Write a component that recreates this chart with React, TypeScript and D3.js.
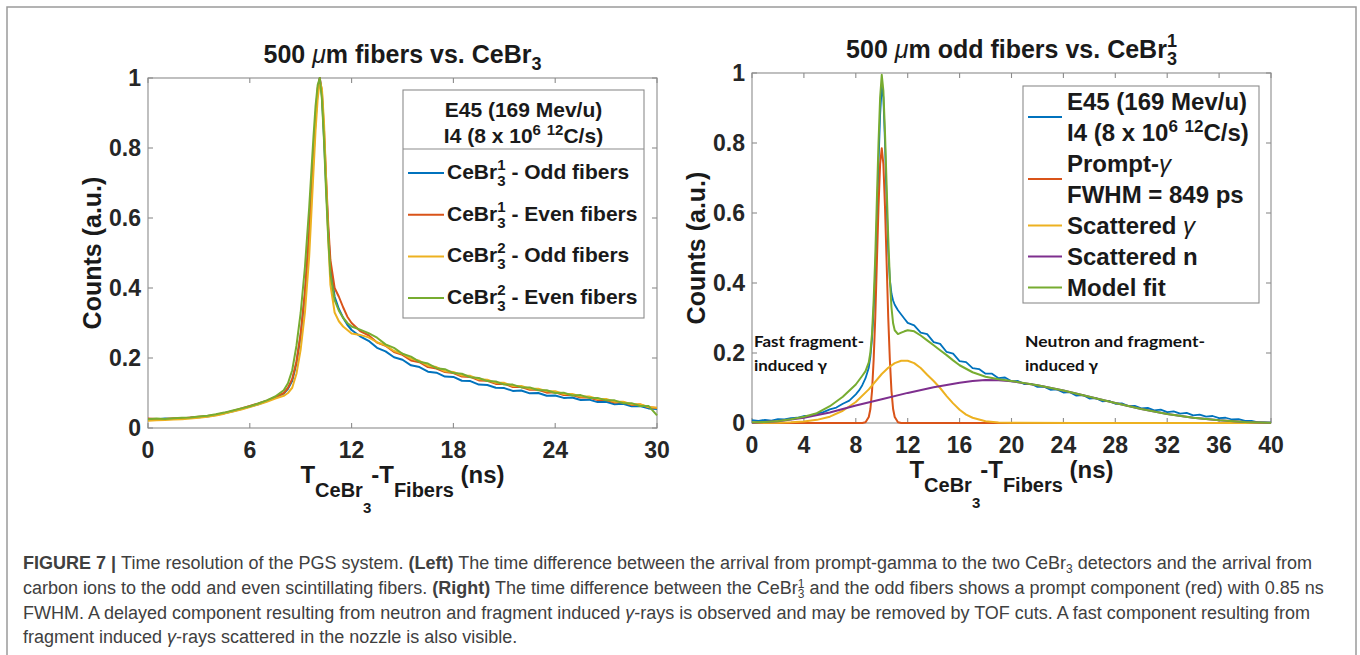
import React from 'react';
import * as d3 from 'd3';

const FONT = '"Liberation Sans", Arial, Helvetica, sans-serif';
const C_BLUE = '#0072BD';
const C_RED = '#D95319';
const C_YEL = '#EDB120';
const C_PUR = '#7E2F8E';
const C_GRN = '#77AC30';

// ---------------- Left panel data ----------------
const leftTime = [0, 0.5, 1, 1.5, 2, 2.5, 3, 3.5, 4, 4.5, 5, 5.5, 6, 6.5, 7, 7.5, 8,
  8.25, 8.5, 8.75, 9, 9.25, 9.5,
  9.625, 9.75, 9.875, 10, 10.125, 10.25, 10.375, 10.5, 10.625, 10.75,
  11, 11.25, 11.5, 11.75, 12,
  12.5, 13, 13.5, 14, 14.5, 15, 15.5, 16, 16.5, 17, 17.5, 18, 18.5, 19, 19.5, 20, 20.5, 21, 21.5, 22,
  22.5, 23, 23.5, 24, 24.5, 25, 25.5, 26, 26.5, 27, 27.5, 28, 28.5, 29, 29.5, 30];

const leftOddCe1 = [0.026, 0.024, 0.027, 0.026, 0.028, 0.029, 0.031, 0.033, 0.037, 0.042, 0.048, 0.054, 0.061, 0.068, 0.077, 0.087, 0.098,
  0.112, 0.135, 0.185, 0.265, 0.38, 0.55,
  0.66, 0.77, 0.88, 0.96, 1.0, 0.95, 0.83, 0.69, 0.56, 0.46,
  0.375, 0.34, 0.315, 0.295, 0.28,
  0.262, 0.249, 0.229, 0.219, 0.202, 0.195, 0.179, 0.174, 0.161, 0.158, 0.147, 0.146, 0.135, 0.134, 0.124, 0.123, 0.115, 0.114, 0.106, 0.107,
  0.099, 0.100, 0.092, 0.093, 0.086, 0.087, 0.080, 0.081, 0.074, 0.075, 0.068, 0.069, 0.062, 0.063, 0.056, 0.054];

const leftEvenCe1 = [0.027, 0.026, 0.026, 0.028, 0.027, 0.030, 0.032, 0.034, 0.038, 0.043, 0.049, 0.056, 0.063, 0.070, 0.078, 0.088, 0.100,
  0.115, 0.14, 0.19, 0.27, 0.39, 0.56,
  0.67, 0.78, 0.89, 0.97, 1.0, 0.96, 0.85, 0.71, 0.58, 0.48,
  0.40, 0.375, 0.345, 0.318, 0.30,
  0.277, 0.265, 0.244, 0.235, 0.217, 0.209, 0.193, 0.188, 0.174, 0.170, 0.160, 0.157, 0.147, 0.146, 0.136, 0.135, 0.126, 0.126, 0.117, 0.117,
  0.109, 0.109, 0.101, 0.102, 0.094, 0.094, 0.087, 0.087, 0.080, 0.080, 0.073, 0.074, 0.066, 0.067, 0.059, 0.057];

const leftOddCe2 = [0.021, 0.022, 0.023, 0.024, 0.025, 0.027, 0.029, 0.032, 0.036, 0.041, 0.047, 0.053, 0.060, 0.067, 0.075, 0.084, 0.092,
  0.100, 0.115, 0.155, 0.225, 0.33, 0.49,
  0.61, 0.73, 0.85, 0.94, 0.99, 0.97, 0.87, 0.71, 0.54, 0.41,
  0.33, 0.305, 0.29, 0.28, 0.27,
  0.266, 0.259, 0.245, 0.236, 0.220, 0.212, 0.198, 0.192, 0.178, 0.174, 0.162, 0.160, 0.150, 0.149, 0.139, 0.138, 0.129, 0.129, 0.120, 0.120,
  0.112, 0.112, 0.105, 0.105, 0.097, 0.097, 0.090, 0.090, 0.083, 0.083, 0.075, 0.075, 0.068, 0.068, 0.060, 0.058];

const leftEvenCe2 = [0.025, 0.027, 0.026, 0.028, 0.029, 0.030, 0.033, 0.035, 0.039, 0.044, 0.050, 0.056, 0.062, 0.070, 0.079, 0.090, 0.108,
  0.128, 0.165, 0.235, 0.33, 0.46, 0.63,
  0.73, 0.83, 0.92, 0.98, 1.0, 0.94, 0.82, 0.67, 0.54, 0.44,
  0.365, 0.335, 0.315, 0.30, 0.29,
  0.281, 0.271, 0.258, 0.239, 0.229, 0.212, 0.204, 0.189, 0.184, 0.171, 0.168, 0.157, 0.155, 0.145, 0.143, 0.134, 0.133, 0.124, 0.124, 0.116,
  0.116, 0.108, 0.108, 0.100, 0.101, 0.093, 0.094, 0.086, 0.086, 0.079, 0.079, 0.071, 0.071, 0.063, 0.063, 0.036];

const leftXTicks = [0, 6, 12, 18, 24, 30];
const yTicks = [0, 0.2, 0.4, 0.6, 0.8, 1];
const yTickLabels = ['0', '0.2', '0.4', '0.6', '0.8', '1'];

// ---------------- Right panel data ----------------
const rightTime = [0, 0.5, 1, 1.5, 2, 2.5, 3, 3.5, 4, 4.5, 5, 5.5, 6, 6.5, 7, 7.5, 8,
  8.25, 8.5, 8.75, 9,
  9.125, 9.25, 9.375, 9.5, 9.625, 9.75, 9.875, 10, 10.125, 10.25, 10.375, 10.5, 10.625, 10.75, 10.875, 11,
  11.25, 11.5, 11.75, 12,
  12.5, 13, 13.5, 14, 14.5, 15, 15.5, 16, 16.5, 17, 17.5, 18, 18.5, 19, 19.5, 20, 20.5, 21, 21.5, 22,
  22.5, 23, 23.5, 24, 24.5, 25, 25.5, 26, 26.5, 27, 27.5, 28, 28.5, 29, 29.5, 30, 30.5, 31, 31.5, 32,
  32.5, 33, 33.5, 34, 34.5, 35, 35.5, 36, 36.5, 37, 37.5, 38, 38.5, 39, 39.5, 40];

const rightData = [0.008, 0.006, 0.009, 0.007, 0.011, 0.010, 0.014, 0.015, 0.020, 0.021, 0.027, 0.031, 0.039, 0.044, 0.055, 0.064, 0.082,
  0.093, 0.108, 0.128, 0.158,
  0.19, 0.24, 0.32, 0.43, 0.58, 0.74, 0.88, 0.96, 0.93, 0.80, 0.63, 0.49, 0.41, 0.37, 0.35, 0.338,
  0.322, 0.31, 0.298, 0.286,
  0.279, 0.258, 0.254, 0.231, 0.226, 0.203, 0.198, 0.177, 0.174, 0.157, 0.154, 0.141, 0.141, 0.128, 0.130, 0.119, 0.120, 0.111, 0.112, 0.103,
  0.104, 0.095, 0.096, 0.087, 0.088, 0.078, 0.080, 0.070, 0.071, 0.062, 0.063, 0.055, 0.056, 0.048, 0.049, 0.042, 0.043, 0.036, 0.038, 0.031,
  0.033, 0.027, 0.029, 0.022, 0.024, 0.018, 0.020, 0.014, 0.015, 0.010, 0.011, 0.006, 0.006, 0.002, 0.002, 0.001];

const promptTime = [0, 8.5, 8.75, 9, 9.125, 9.25, 9.375, 9.5, 9.625, 9.75, 9.875, 10, 10.125, 10.25, 10.375, 10.5, 10.625, 10.75, 10.875, 11, 11.25, 11.5, 40];
const promptFit = [0, 0, 0.002, 0.017, 0.040, 0.091, 0.18, 0.301, 0.46, 0.618, 0.74, 0.785, 0.74, 0.618, 0.46, 0.301, 0.18, 0.091, 0.040, 0.017, 0.002, 0, 0];

const scatGammaTime = [0, 1, 2, 3, 4, 5, 6, 7, 8, 9, 10, 10.5, 11, 11.5, 12, 12.5, 13, 13.5, 14, 14.5, 15, 15.5, 16, 16.5, 17, 18, 19, 20, 25, 30, 35, 40];
const scatGammaFit = [0, 0.0005, 0.001, 0.002, 0.004, 0.009, 0.018, 0.035, 0.060, 0.096, 0.140, 0.158, 0.171, 0.178, 0.178, 0.171, 0.157, 0.138, 0.120, 0.100, 0.077, 0.056, 0.038, 0.024, 0.015, 0.005, 0.0015, 0.0005, 0, 0, 0, 0];

const scatNTime = [0, 2, 4, 6, 8, 10, 12, 14, 16, 17, 18, 19, 20, 22, 24, 26, 28, 30, 32, 34, 36, 38, 40];
const scatNFit = [0.001, 0.005, 0.015, 0.030, 0.050, 0.068, 0.086, 0.102, 0.115, 0.120, 0.123, 0.122, 0.119, 0.108, 0.093, 0.075, 0.057, 0.040, 0.026, 0.015, 0.008, 0.003, 0.001];

const modelTime = [0, 1, 2, 3, 4, 5, 6, 7, 8, 8.5, 8.75, 9, 9.125, 9.25, 9.375, 9.5, 9.625, 9.75, 9.875, 10, 10.125, 10.25, 10.375, 10.5, 10.625, 10.75, 10.875, 11,
  11.25, 11.5, 11.75, 12, 12.5, 13, 13.5, 14, 14.5, 15, 15.5, 16, 17, 18, 19, 20, 22, 24, 26, 28, 30, 32, 34, 36, 38, 40];
const modelFit = [0.002, 0.003, 0.006, 0.011, 0.018, 0.028, 0.048, 0.075, 0.110, 0.135, 0.148, 0.173, 0.202, 0.255, 0.35, 0.475, 0.64, 0.80, 0.93, 0.995, 0.95, 0.83, 0.68, 0.53, 0.41, 0.33, 0.285, 0.265,
  0.254, 0.258, 0.262, 0.265, 0.262, 0.250, 0.236, 0.222, 0.208, 0.194, 0.179, 0.165, 0.145, 0.132, 0.125, 0.120, 0.108, 0.093, 0.075, 0.057, 0.040, 0.026, 0.015, 0.008, 0.003, 0.001];

const rightXTicks = [0, 4, 8, 12, 16, 20, 24, 28, 32, 36, 40];

const leftLegend = [
  { sup: '1', rest: ' - Odd fibers', color: C_BLUE },
  { sup: '1', rest: ' - Even fibers', color: C_RED },
  { sup: '2', rest: ' - Odd fibers', color: C_YEL },
  { sup: '2', rest: ' - Even fibers', color: C_GRN },
];

// ---------------- helpers ----------------
type Seg = { t: string; fs: number; dy?: number; dx?: number; fw?: string; it?: boolean };

function Rich({ x, y, segs, anchor = 'start', fill = '#1a1a1a', transform, fw = 'bold', family = FONT }:
  { x: number; y: number; segs: Seg[]; anchor?: string; fill?: string; transform?: string; fw?: string; family?: string }) {
  let prev = 0;
  return (
    <text x={x} y={y} textAnchor={anchor as any} fill={fill} transform={transform} fontFamily={family} style={{ whiteSpace: 'pre' }}>
      {segs.map((s, i) => {
        const off = s.dy || 0;
        const d = off - prev;
        prev = off;
        return (
          <tspan key={i} dy={d} dx={s.dx} fontSize={s.fs} fontWeight={s.fw ?? fw} fontStyle={s.it ? 'italic' : 'normal'}>{s.t}</tspan>
        );
      })}
    </text>
  );
}

type Box = { x0: number; x1: number; y0: number; y1: number };
type Series = { xs: number[]; ys: number[]; color: string; width?: number };

function Panel({ box, xDomain, xTicks, series }: { box: Box; xDomain: [number, number]; xTicks: number[]; series: Series[] }) {
  const xs = d3.scaleLinear().domain(xDomain).range([box.x0, box.x1]);
  const ys = d3.scaleLinear().domain([0, 1]).range([box.y1, box.y0]);
  const line = d3.line<[number, number]>().x(d => xs(d[0])).y(d => ys(d[1]));
  const axisColor = '#8c8c8c';
  const tl = 5;
  return (
    <g>
      <rect x={box.x0} y={box.y0} width={box.x1 - box.x0} height={box.y1 - box.y0} fill="white" stroke={axisColor} strokeWidth={1.1} />
      {xTicks.map(t => (
        <g key={'xt' + t}>
          <line x1={xs(t)} x2={xs(t)} y1={box.y1} y2={box.y1 - tl} stroke={axisColor} strokeWidth={1.1} />
          <line x1={xs(t)} x2={xs(t)} y1={box.y0} y2={box.y0 + tl} stroke={axisColor} strokeWidth={1.1} />
          <text x={xs(t)} y={box.y1 + 30} textAnchor="middle" fontFamily={FONT} fontWeight="bold" fontSize={23} fill="#262626">{t}</text>
        </g>
      ))}
      {yTicks.map((t, i) => (
        <g key={'yt' + t}>
          <line x1={box.x0} x2={box.x0 + tl} y1={ys(t)} y2={ys(t)} stroke={axisColor} strokeWidth={1.1} />
          <line x1={box.x1} x2={box.x1 - tl} y1={ys(t)} y2={ys(t)} stroke={axisColor} strokeWidth={1.1} />
          <text x={box.x0 - 7} y={ys(t) + 8} textAnchor="end" fontFamily={FONT} fontWeight="bold" fontSize={23} fill="#262626">{yTickLabels[i]}</text>
        </g>
      ))}
      {series.map((s, i) => {
        const n = Math.min(s.xs.length, s.ys.length);
        const pts: [number, number][] = [];
        for (let k = 0; k < n; k++) pts.push([s.xs[k], s.ys[k]]);
        return <path key={i} d={line(pts) || ''} fill="none" stroke={s.color} strokeWidth={s.width ?? 2} strokeLinejoin="round" />;
      })}
    </g>
  );
}

function XLabel({ cx, y }: { cx: number; y: number }) {
  return (
    <Rich x={cx} y={y} anchor="middle" segs={[
      { t: 'T', fs: 24 },
      { t: 'CeBr', fs: 20, dy: 14 },
      { t: '3', fs: 15, dy: 30 },
      { t: '-T', fs: 24, dy: 0 },
      { t: 'Fibers', fs: 20, dy: 14 },
      { t: ' (ns)', fs: 24, dy: 0 },
    ]} />
  );
}

export default function App() {
  const L: Box = { x0: 148, x1: 657, y0: 78, y1: 428 };
  const R: Box = { x0: 752, x1: 1271, y0: 73, y1: 423 };
  const lcx = (L.x0 + L.x1) / 2;
  const rcx = (R.x0 + R.x1) / 2;
  const capFill = '#404040';
  const capFs = 18;

  return (
    <svg width={1360} height={655} style={{ position: 'absolute', left: 0, top: 0, background: 'white' }}>
      <rect x={0} y={0} width={1360} height={655} fill="white" />
      <rect x={7} y={7} width={1349} height={670} fill="none" stroke="#9a9a9a" strokeWidth={1.5} />

      {/* ---------- Left panel ---------- */}
      <Rich x={lcx} y={L.y0 - 15} anchor="middle" segs={[
        { t: '500 ', fs: 25 },
        { t: 'μ', fs: 25, it: true, fw: 'normal' },
        { t: 'm fibers vs. CeBr', fs: 25 },
        { t: '3', fs: 18, dy: 7 },
      ]} />
      <Panel box={L} xDomain={[0, 30]} xTicks={leftXTicks} series={[
        { xs: leftTime, ys: leftOddCe1, color: C_BLUE },
        { xs: leftTime, ys: leftEvenCe1, color: C_RED },
        { xs: leftTime, ys: leftOddCe2, color: C_YEL },
        { xs: leftTime, ys: leftEvenCe2, color: C_GRN },
      ]} />
      <text transform={`translate(${L.x0 - 47},${(L.y0 + L.y1) / 2}) rotate(-90)`} textAnchor="middle" fontFamily={FONT} fontWeight="bold" fontSize={25} fill="#1a1a1a">Counts (a.u.)</text>
      <XLabel cx={lcx} y={L.y1 + 55} />

      {/* left legend */}
      <rect x={403} y={90} width={241} height={228} fill="white" stroke="#8c8c8c" strokeWidth={1.1} />
      <line x1={403} x2={644} y1={149} y2={149} stroke="#8c8c8c" strokeWidth={1.1} />
      <Rich x={523.5} y={117} anchor="middle" segs={[{ t: 'E45 (169 Mev/u)', fs: 21 }]} />
      <Rich x={523.5} y={143} anchor="middle" segs={[
        { t: 'I4 (8 x 10', fs: 21 },
        { t: '6', fs: 15, dy: -8 },
        { t: ' ', fs: 21, dy: 0 },
        { t: '12', fs: 15, dy: -8 },
        { t: 'C/s)', fs: 21, dy: 0 },
      ]} />
      {leftLegend.map((e, i) => {
        const ly = 173 + i * 41.7;
        return (
          <g key={i}>
            <line x1={408} x2={444} y1={ly} y2={ly} stroke={e.color} strokeWidth={2} />
            <Rich x={447} y={ly + 6} segs={[
              { t: 'CeBr', fs: 21 },
              { t: e.sup, fs: 15, dy: -9 },
              { t: '3', fs: 15, dy: 7, dx: -8.3 },
              { t: e.rest, fs: 21, dy: 0 },
            ]} />
          </g>
        );
      })}

      {/* ---------- Right panel ---------- */}
      <Rich x={rcx} y={R.y0 - 15} anchor="middle" segs={[
        { t: '500 ', fs: 25 },
        { t: 'μ', fs: 25, it: true, fw: 'normal' },
        { t: 'm odd fibers vs. CeBr', fs: 25 },
        { t: '1', fs: 18, dy: -11 },
        { t: '3', fs: 18, dy: 7, dx: -10 },
      ]} />
      <Panel box={R} xDomain={[0, 40]} xTicks={rightXTicks} series={[
        { xs: rightTime, ys: rightData, color: C_BLUE, width: 1.8 },
        { xs: promptTime, ys: promptFit, color: C_RED },
        { xs: scatGammaTime, ys: scatGammaFit, color: C_YEL },
        { xs: scatNTime, ys: scatNFit, color: C_PUR },
        { xs: modelTime, ys: modelFit, color: C_GRN },
      ]} />
      <text transform={`translate(${R.x0 - 47},${(R.y0 + R.y1) / 2}) rotate(-90)`} textAnchor="middle" fontFamily={FONT} fontWeight="bold" fontSize={25} fill="#1a1a1a">Counts (a.u.)</text>
      <XLabel cx={rcx} y={R.y1 + 55} />

      {/* annotations */}
      <g fontFamily='Lato, "Open Sans", sans-serif' fontWeight="bold" fontSize={16} fill="#111">
        <text x={754} y={347} textLength={110} lengthAdjust="spacingAndGlyphs">Fast fragment-</text>
        <text x={754} y={371} textLength={73} lengthAdjust="spacingAndGlyphs">induced γ</text>
        <text x={1025} y={347} textLength={180} lengthAdjust="spacingAndGlyphs">Neutron and fragment-</text>
        <text x={1025} y={371} textLength={73} lengthAdjust="spacingAndGlyphs">induced γ</text>
      </g>

      {/* right legend */}
      <rect x={1023} y={86} width={236} height={217} fill="white" stroke="#8c8c8c" strokeWidth={1.1} />
      <line x1={1028} x2={1062} y1={117} y2={117} stroke={C_BLUE} strokeWidth={2} />
      <line x1={1028} x2={1062} y1={179} y2={179} stroke={C_RED} strokeWidth={2} />
      <line x1={1028} x2={1062} y1={225.5} y2={225.5} stroke={C_YEL} strokeWidth={2} />
      <line x1={1028} x2={1062} y1={256.5} y2={256.5} stroke={C_PUR} strokeWidth={2} />
      <line x1={1028} x2={1062} y1={287.5} y2={287.5} stroke={C_GRN} strokeWidth={2} />
      <Rich x={1067} y={110} segs={[{ t: 'E45 (169 Mev/u)', fs: 24 }]} />
      <Rich x={1067} y={141} segs={[
        { t: 'I4 (8 x 10', fs: 24 },
        { t: '6', fs: 17, dy: -9 },
        { t: ' ', fs: 24, dy: 0 },
        { t: '12', fs: 17, dy: -9 },
        { t: 'C/s)', fs: 24, dy: 0 },
      ]} />
      <Rich x={1067} y={172} segs={[{ t: 'Prompt-', fs: 24 }, { t: 'γ', fs: 24, it: true, fw: 'normal' }]} />
      <Rich x={1067} y={203} segs={[{ t: 'FWHM = 849 ps', fs: 24 }]} />
      <Rich x={1067} y={234} segs={[{ t: 'Scattered ', fs: 24 }, { t: 'γ', fs: 24, it: true, fw: 'normal' }]} />
      <Rich x={1067} y={265} segs={[{ t: 'Scattered n', fs: 24 }]} />
      <Rich x={1067} y={296} segs={[{ t: 'Model fit', fs: 24 }]} />

      {/* ---------- caption ---------- */}
      <Rich x={23} y={569} fill={capFill} fw="normal" segs={[
        { t: 'FIGURE 7 | ', fs: capFs, fw: 'bold' },
        { t: 'Time resolution of the PGS system. ', fs: capFs },
        { t: '(Left)', fs: capFs, fw: 'bold' },
        { t: ' The time difference between the arrival from prompt-gamma to the two CeBr', fs: capFs },
        { t: '3', fs: 12, dy: 4 },
        { t: ' detectors and the arrival from', fs: capFs, dy: 0 },
      ]} />
      <Rich x={23} y={594} fill={capFill} fw="normal" segs={[
        { t: 'carbon ions to the odd and even scintillating fibers. ', fs: capFs },
        { t: '(Right)', fs: capFs, fw: 'bold' },
        { t: ' The time difference between the CeBr', fs: capFs },
        { t: '1', fs: 12, dy: -6 },
        { t: '3', fs: 12, dy: 4, dx: -6.7 },
        { t: ' and the odd fibers shows a prompt component (red) with 0.85 ns', fs: capFs, dy: 0 },
      ]} />
      <Rich x={23} y={619} fill={capFill} fw="normal" segs={[
        { t: 'FWHM. A delayed component resulting from neutron and fragment induced ', fs: capFs },
        { t: 'γ', fs: capFs, it: true },
        { t: '-rays is observed and may be removed by TOF cuts. A fast component resulting from', fs: capFs },
      ]} />
      <Rich x={23} y={643} fill={capFill} fw="normal" segs={[
        { t: 'fragment induced ', fs: capFs },
        { t: 'γ', fs: capFs, it: true },
        { t: '-rays scattered in the nozzle is also visible.', fs: capFs },
      ]} />
    </svg>
  );
}
